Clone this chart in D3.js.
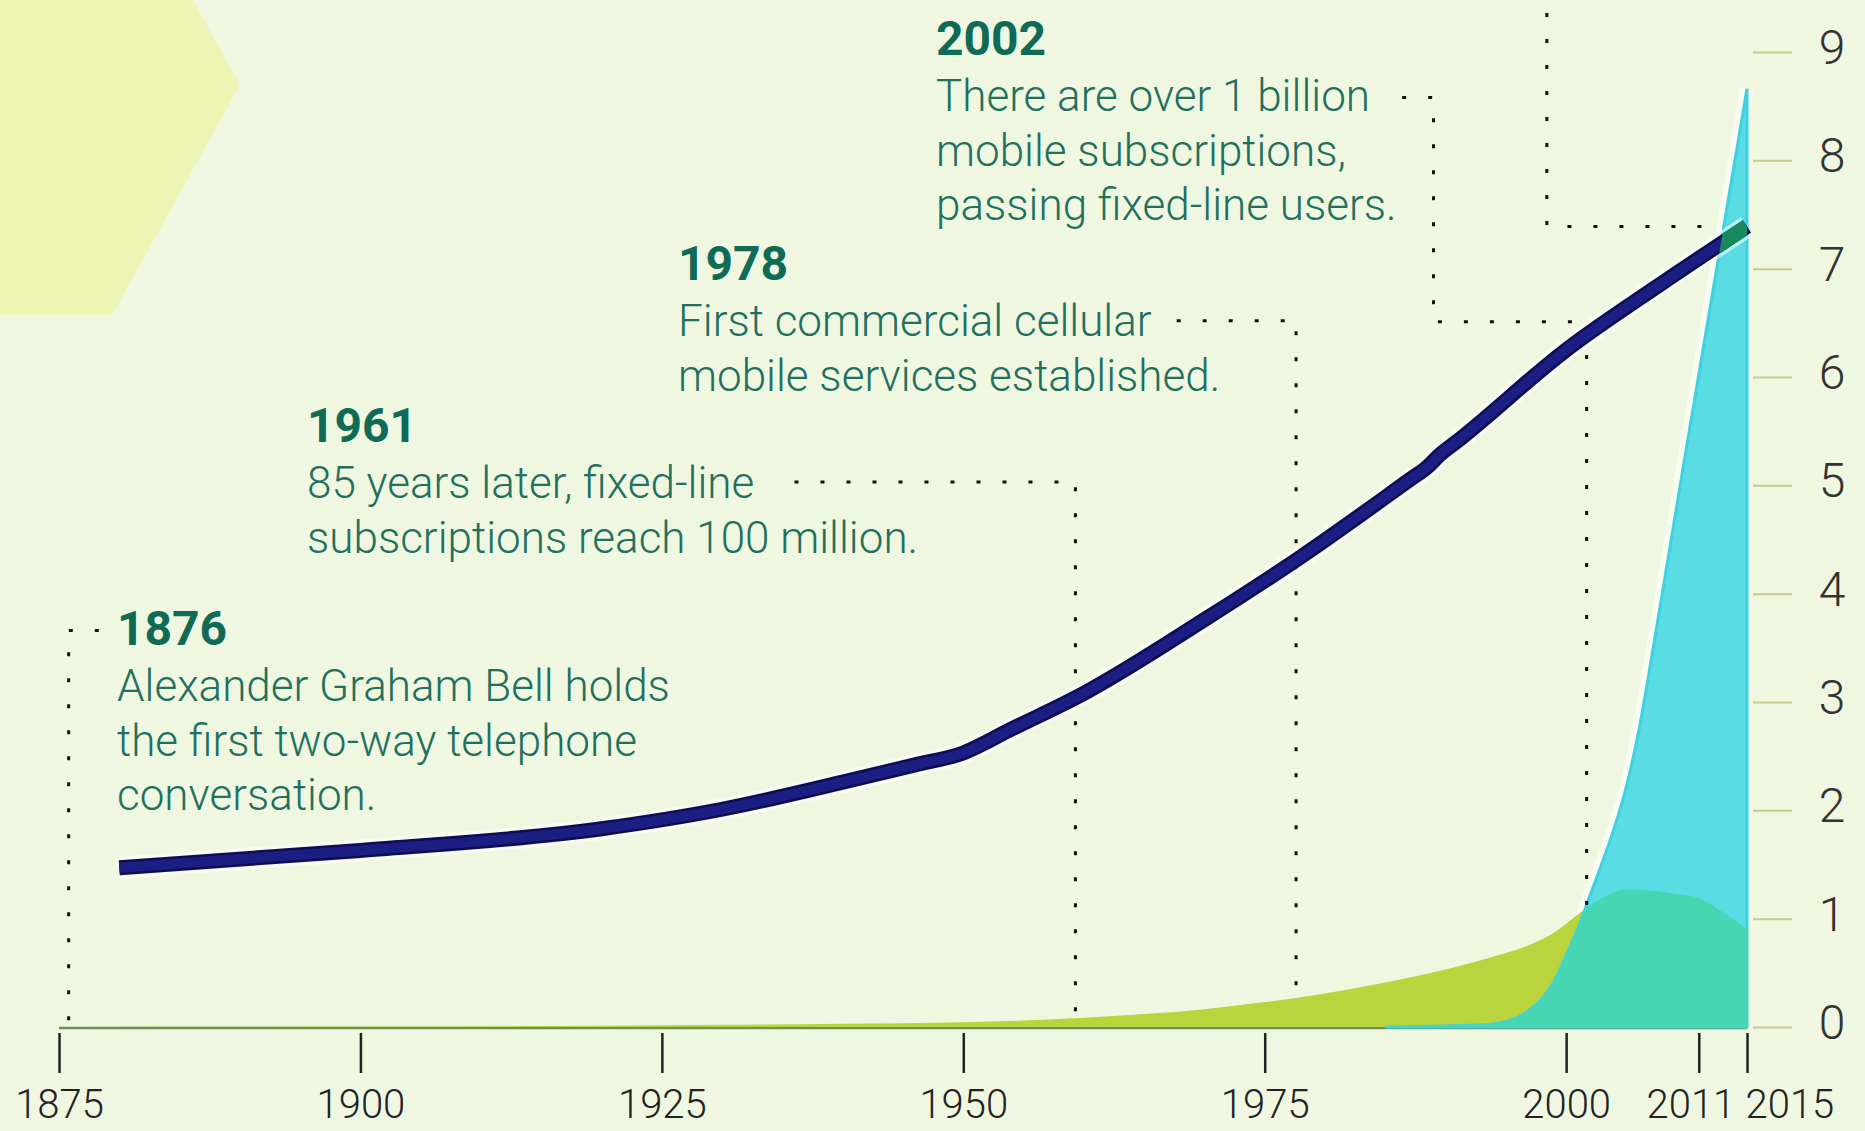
<!DOCTYPE html>
<html>
  <head>
    <meta charset="utf-8">
    <title>Telephone subscriptions and world population</title>
    <script src="https://d3js.org/d3.v7.min.js"></script>
    <style>
      body { margin: 0; background: #f0f7e1; overflow: hidden; }
      svg { display: block; }
      text { font-family: Roboto, "Noto Sans", sans-serif; }
    </style>
  </head>
  <body>
    <div id="chart"></div>
    <script>
      // world population (billions)
      const popYears = [1880, 1900, 1920, 1930, 1940, 1946, 1950, 1954, 1960, 1970, 1978, 1987, 1988.5, 1989.5, 1991, 2000, 2008, 2015];
      const popValues = [1.47, 1.63, 1.83, 2.01, 2.26, 2.42, 2.53, 2.75, 3.08, 3.76, 4.34, 5.05, 5.17, 5.28, 5.41, 6.25, 6.87, 7.39];
      // fixed-line subscriptions (billions)
      const fixedYears = [1876, 1900, 1920, 1930, 1940, 1950, 1955, 1960, 1965, 1970, 1975, 1980, 1985, 1990, 1994, 1997, 1999, 2001, 2003, 2005, 2007, 2009, 2011, 2013, 2015];
      const fixedValues = [0, 0.004, 0.012, 0.02, 0.03, 0.045, 0.06, 0.085, 0.12, 0.165, 0.23, 0.31, 0.41, 0.53, 0.65, 0.76, 0.87, 1.04, 1.19, 1.27, 1.26, 1.23, 1.19, 1.06, 0.9];
      // mobile subscriptions (billions)
      const mobileYears = [1985, 1990, 1993, 1995, 1996, 1997, 1998, 1999, 2000, 2001, 2002, 2003, 2004, 2005, 2006, 2007, 2008, 2009, 2010, 2011, 2012, 2013, 2014, 2015];
      const mobileValues = [0, 0.01, 0.02, 0.05, 0.09, 0.16, 0.26, 0.42, 0.66, 0.92, 1.22, 1.52, 1.84, 2.22, 2.72, 3.35, 4.02, 4.69, 5.36, 6.02, 6.68, 7.34, 8.0, 8.66];

      // axes
      const xTicks = [1875, 1900, 1925, 1950, 1975, 2000, 2011, 2015];
      const yTicks = [0, 1, 2, 3, 4, 5, 6, 7, 8, 9];

      // annotations
      const noteTitles = ["1876", "1961", "1978", "2002"];
      const noteLines = [
        ["Alexander Graham Bell holds", "the first two-way telephone", "conversation."],
        ["85 years later, fixed-line", "subscriptions reach 100 million."],
        ["First commercial cellular", "mobile services established."],
        ["There are over 1 billion", "mobile subscriptions,", "passing fixed-line users."]
      ];
      // dotted leaders as [year, value] points
      const leaders = [
        [[1878.3, 3.66], [1875.8, 3.66], [1875.8, 0.04]],
        [[1936, 5.03], [1959.3, 5.03], [1959.3, 0.07]],
        [[1967.7, 6.52], [1977.6, 6.52], [1977.6, 0.3]],
        [[1986.4, 8.58], [1989.0, 8.58], [1989.0, 6.51], [2001.7, 6.51], [2001.7, 1.1]],
        [[1998.4, 9.6], [1998.4, 7.39], [2013, 7.39]]
      ];

      const width = 1865, height = 1131;
      const svg = d3.select("#chart").append("svg")
        .attr("width", width)
        .attr("height", height);

      const x = d3.scaleLinear().domain([1875, 2015]).range([59, 1747]);
      const y = d3.scaleLinear().domain([0, 9]).range([1027, 52]);

      const pop = popYears.map((d, i) => ({ year: d, value: popValues[i] }));
      const fixed = fixedYears.map((d, i) => ({ year: d, value: fixedValues[i] }));
      const mobile = mobileYears.map((d, i) => ({ year: d, value: mobileValues[i] }));

      // background hexagon
      svg.append("polygon")
        .attr("points", "0,0 193,0 240,85 112,315 0,315")
        .attr("fill", "#eef4b4");

      const area = d3.area()
        .x(d => x(d.year))
        .y0(y(0))
        .y1(d => y(d.value))
        .curve(d3.curveMonotoneX);
      const line = d3.line()
        .x(d => x(d.year))
        .y(d => y(d.value))
        .curve(d3.curveMonotoneX);

      const defs = svg.append("defs");
      defs.append("clipPath").attr("id", "mobileClip")
        .append("path").attr("d", area(mobile));
      defs.append("clipPath").attr("id", "plotClip")
        .append("rect")
          .attr("x", 0).attr("y", 0)
          .attr("width", width).attr("height", y(0));

      // baseline
      svg.append("line")
        .attr("x1", x(1875)).attr("x2", x(2015))
        .attr("y1", y(0) + 1).attr("y2", y(0) + 1)
        .attr("stroke", "#6f8f5a")
        .attr("stroke-width", 2.5);

      // white glow along mobile edge
      svg.append("path")
        .attr("d", line(mobile))
        .attr("clip-path", "url(#plotClip)")
        .attr("fill", "none")
        .attr("stroke", "#ffffff")
        .attr("stroke-opacity", 0.6)
        .attr("stroke-width", 14);

      // fixed-line area
      svg.append("path")
        .attr("d", area(fixed))
        .attr("fill", "#b9d43c");

      // mobile area
      svg.append("path")
        .attr("d", area(mobile))
        .attr("fill", "#5adce4")
        .attr("stroke", "#3fd0e2")
        .attr("stroke-width", 3);

      // overlap of fixed and mobile
      svg.append("path")
        .attr("d", area(fixed))
        .attr("clip-path", "url(#mobileClip)")
        .attr("fill", "#46d6b2");

      // leaders
      svg.append("g")
        .selectAll("path")
        .data(leaders)
        .join("path")
          .attr("d", d => d3.line().x(p => x(p[0])).y(p => y(p[1]))(d))
          .attr("fill", "none")
          .attr("stroke", "#111")
          .attr("stroke-width", 3)
          .attr("stroke-dasharray", "4 22");

      // population line
      svg.append("path")
        .attr("d", line(pop))
        .attr("fill", "none")
        .attr("stroke", "#ffffff")
        .attr("stroke-opacity", 0.55)
        .attr("stroke-width", 22);
      svg.append("path")
        .attr("d", line(pop))
        .attr("fill", "none")
        .attr("stroke", "#0d0d52")
        .attr("stroke-width", 15);
      svg.append("path")
        .attr("d", line(pop))
        .attr("fill", "none")
        .attr("stroke", "#1c1e84")
        .attr("stroke-width", 10);
      // part of the line over the mobile area
      svg.append("path")
        .attr("d", line(pop))
        .attr("clip-path", "url(#mobileClip)")
        .attr("fill", "none")
        .attr("stroke", "#168a5c")
        .attr("stroke-width", 15);

      // x axis
      const xAxis = svg.append("g")
        .attr("transform", `translate(0,${y(0) + 6})`)
        .call(d3.axisBottom(x).tickValues(xTicks).tickFormat(d3.format("d")).tickSize(40).tickPadding(17));
      xAxis.select(".domain").remove();
      xAxis.selectAll(".tick line")
        .attr("stroke", "#222")
        .attr("stroke-width", 2.5);
      xAxis.selectAll(".tick text")
        .attr("fill", "#222")
        .style("font-size", "40px")
        .style("font-weight", 300)
        .attr("text-anchor", d => d === 2011 ? "end" : d === 2015 ? "start" : "middle")
        .attr("x", d => d === 2011 ? 36 : d === 2015 ? -2 : 0);

      // y axis
      const yAxis = svg.append("g")
        .attr("transform", `translate(${x(2015) + 6},0)`)
        .call(d3.axisRight(y).tickValues(yTicks).tickSize(39));
      yAxis.select(".domain").remove();
      yAxis.selectAll(".tick line")
        .attr("stroke", "#c9c98f")
        .attr("stroke-width", 2);
      yAxis.selectAll(".tick text")
        .attr("fill", "#333")
        .attr("x", 79)
        .attr("dy", "0.24em")
        .attr("text-anchor", "middle")
        .style("font-size", "48px")
        .style("font-weight", 300);

      // annotation text
      const noteX = [117, 307, 678, 936];
      const noteY = [645, 442, 280, 55];
      const notes = svg.append("g")
        .selectAll("g")
        .data(noteTitles)
        .join("g")
          .attr("transform", (d, i) => `translate(${noteX[i]},${noteY[i]})`);
      notes.append("text")
        .text(d => d)
        .attr("fill", "#0f6b56")
        .style("font-size", "48px")
        .style("font-weight", 700);
      notes.each(function(d, i) {
        d3.select(this).selectAll(".line")
          .data(noteLines[i])
          .join("text")
            .attr("class", "line")
            .attr("y", (t, j) => 56 + j * 54.5)
            .text(t => t)
            .attr("fill", "#21705e")
            .style("font-size", "44px")
            .style("font-weight", 300);
      });
    </script>
  </body>
</html>
